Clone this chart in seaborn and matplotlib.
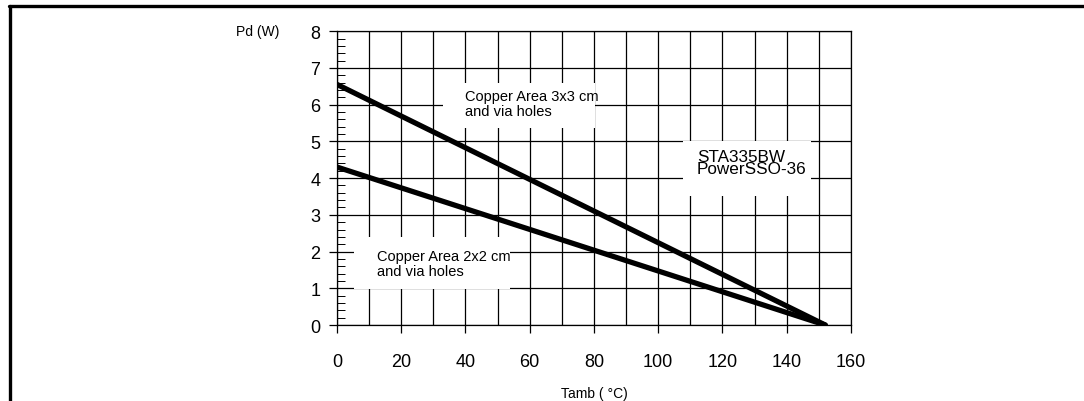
import pandas as pd
import seaborn as sns
import matplotlib.pyplot as plt
from matplotlib.lines import Line2D
from matplotlib.patches import Rectangle
from matplotlib.ticker import MultipleLocator

# derating curves
tamb = [0, 152]
pd_3x3 = [6.55, 0.0]
pd_2x2 = [4.3, 0.0]
curve_names = ["Copper Area 3x3 cm\nand via holes", "Copper Area 2x2 cm\nand via holes"]
x_ticks = [0, 20, 40, 60, 80, 100, 120, 140, 160]
y_ticks = [0, 1, 2, 3, 4, 5, 6, 7, 8]

df = pd.DataFrame({
    "Tamb": tamb + tamb,
    "Pd": pd_3x3 + pd_2x2,
    "curve": [curve_names[0]] * len(tamb) + [curve_names[1]] * len(tamb),
})

sns.set_style("white")
plt.rcParams['font.family'] = ['Liberation Sans', 'DejaVu Sans']
plt.rcParams['text.color'] = 'black'
plt.rcParams['axes.labelcolor'] = 'black'
plt.rcParams['xtick.color'] = 'black'
plt.rcParams['ytick.color'] = 'black'

fig = plt.figure(figsize=(10.84, 4.02), dpi=100)
ax = fig.add_axes([0.3109, 0.189, 0.785 - 0.3109, 0.920 - 0.189])

sns.lineplot(data=df, x="Tamb", y="Pd", hue="curve", palette=["black", "black"],
             linewidth=3.8, legend=False, ax=ax, zorder=5)

ax.set_xlim(0, 160)
ax.set_ylim(0, 8)
ax.set_xticks(x_ticks)
ax.set_yticks(y_ticks)
ax.xaxis.set_minor_locator(MultipleLocator(10))
ax.yaxis.set_minor_locator(MultipleLocator(0.2))

ax.grid(True, which="major", axis="y", color="black", linewidth=0.9)
ax.grid(True, which="minor", axis="x", color="black", linewidth=0.9)
ax.grid(True, which="major", axis="x", color="black", linewidth=0.9)
ax.set_axisbelow(True)

for s in ax.spines.values():
    s.set_color("black")
    s.set_linewidth(0.9)

ax.tick_params(axis="x", which="major", direction="out", length=6, width=0.9,
               labelsize=13, pad=14, bottom=True)
ax.tick_params(axis="x", which="minor", length=0, bottom=False)
ax.tick_params(axis="y", which="major", direction="out", length=6, width=0.9,
               labelsize=13, pad=6, left=True)
ax.tick_params(axis="y", which="minor", direction="in", length=6, width=0.7, left=True)

ax.set_xlabel("Tamb ( °C)", fontsize=10, labelpad=12)
ax.set_ylabel("")
ax.text(-18, 8, "Pd (W)", fontsize=10, ha="right", va="center")

# white label boxes that cut the grid
boxes = [(33, 5.36, 47.4, 1.22), (5.3, 0.98, 48.7, 1.42), (107.8, 3.5, 39.9, 1.5)]
for bx, by, bw, bh in boxes:
    ax.add_patch(Rectangle((bx, by), bw, bh, facecolor="white", edgecolor="none", zorder=3))

ax.text(40, 6.42, curve_names[0], fontsize=10.5, va="top", ha="left", linespacing=1.1, zorder=4)
ax.text(12.5, 1.68, curve_names[1], fontsize=10.5, va="center", ha="left", linespacing=1.1, zorder=4)
ax.text(112, 4.8, "STA335BW\nPowerSSO-36", fontsize=12.3, va="top", ha="left",
        linespacing=0.75, zorder=4)

# page frame around the figure
fig.add_artist(Line2D([9 / 1084, 1.0], [1 - 7 / 402, 1 - 7 / 402], color="black", linewidth=2.4,
                      transform=fig.transFigure))
fig.add_artist(Line2D([10 / 1084, 10 / 1084], [0.0, 1 - 7 / 402], color="black", linewidth=2.4,
                      transform=fig.transFigure))

fig.savefig("out.png", dpi=100)
